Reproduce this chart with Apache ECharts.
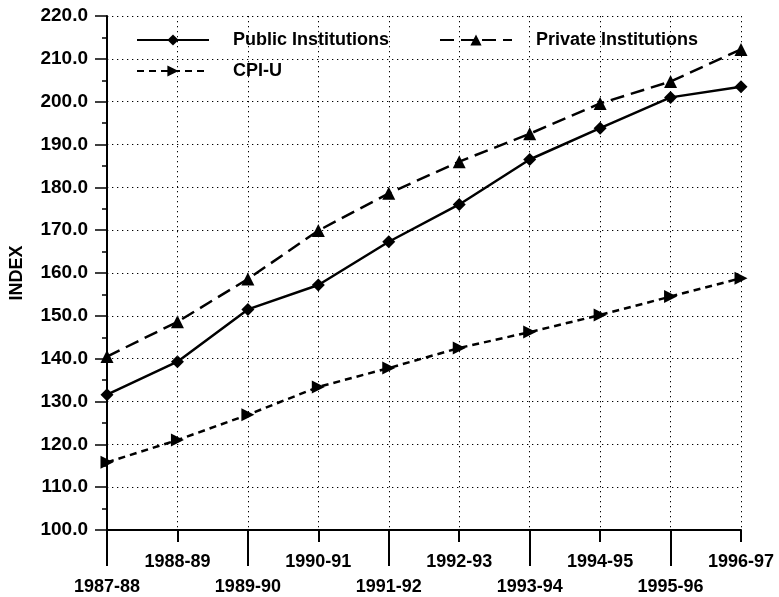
<!DOCTYPE html>
<html>
<head>
<meta charset="utf-8">
<style>
  html, body { margin: 0; padding: 0; background: #fff; }
  #chart { width: 779px; height: 597px; }
</style>
<script src="https://cdn.jsdelivr.net/npm/echarts@6/dist/echarts.min.js"></script>
</head>
<body>
<div id="chart"></div>
<script>
const categories = ['1987-88','1988-89','1989-90','1990-91','1991-92','1992-93','1993-94','1994-95','1995-96','1996-97'];
const publicInst = [131.6, 139.3, 151.5, 157.2, 167.3, 176.0, 186.5, 193.8, 201.0, 203.5];
const privateInst = [140.5, 148.6, 158.6, 169.9, 178.6, 186.0, 192.5, 199.6, 204.7, 212.2];
const cpiU = [115.8, 121.0, 126.9, 133.4, 137.8, 142.5, 146.2, 150.2, 154.5, 158.8];
const yTicks = { min: 100, max: 220, interval: 10 };

const FONT = '"Liberation Sans", Arial, Helvetica, sans-serif';
const chart = echarts.init(document.getElementById('chart'), null, { renderer: 'canvas' });

const dotted = { color: '#000', width: 1, type: [1.3, 3.7] };
const evenIdx = (i) => i % 2 === 0;
const oddIdx = (i) => i % 2 === 1;

const option = {
  backgroundColor: '#fff',
  animation: false,
  grid: { left: 103, right: 38, top: 16, bottom: 67, containLabel: false },
  legend: [
    {
      data: ['Public Institutions', 'Private Institutions'],
      left: 136, top: 31, padding: 0,
      itemWidth: 72, itemHeight: 14, itemGap: 50,
      textStyle: { fontFamily: FONT, fontWeight: 'bold', fontSize: 18, color: '#000', padding: [0, 0, 0, 19] }
    },
    {
      data: ['CPI-U'],
      left: 136, top: 62, padding: 0,
      itemWidth: 72, itemHeight: 14,
      textStyle: { fontFamily: FONT, fontWeight: 'bold', fontSize: 18, color: '#000', padding: [0, 0, 0, 19] }
    }
  ],
  xAxis: [
    {
      type: 'category', data: categories, boundaryGap: false, position: 'bottom',
      axisLine: { show: true, lineStyle: { color: '#000', width: 2 } },
      axisTick: { show: true, length: 36, interval: evenIdx, lineStyle: { color: '#000', width: 2 } },
      axisLabel: { interval: evenIdx, margin: 48, fontFamily: FONT, fontWeight: 'bold', fontSize: 18, color: '#000' },
      splitLine: { show: true, interval: 0, lineStyle: dotted }
    },
    {
      type: 'category', data: categories, boundaryGap: false, position: 'bottom',
      axisLine: { show: false },
      axisTick: { show: true, length: 12, interval: oddIdx, lineStyle: { color: '#000', width: 2 } },
      axisLabel: { interval: oddIdx, margin: 23, fontFamily: FONT, fontWeight: 'bold', fontSize: 18, color: '#000' },
      splitLine: { show: false }
    }
  ],
  yAxis: {
    type: 'value', min: yTicks.min, max: yTicks.max, interval: yTicks.interval,
    name: 'INDEX', nameLocation: 'middle', nameGap: 81,
    nameTextStyle: { fontFamily: FONT, fontWeight: 'bold', fontSize: 18, color: '#000' },
    axisLine: { show: true, lineStyle: { color: '#000', width: 2 } },
    axisTick: { show: true, length: 12, lineStyle: { color: '#000', width: 1.5 } },
    minorTick: { show: true, splitNumber: 2, length: 5, lineStyle: { color: '#000', width: 1.5 } },
    axisLabel: { margin: 19, fontFamily: FONT, fontWeight: 'bold', fontSize: 19, color: '#000',
      formatter: (v) => v.toFixed(1) },
    splitLine: { show: true, lineStyle: dotted }
  },
  series: [
    {
      name: 'Public Institutions', type: 'line', data: publicInst,
      symbol: 'diamond', symbolSize: 13,
      lineStyle: { color: '#000', width: 2.5, type: 'solid' },
      itemStyle: { color: '#000' }, z: 5
    },
    {
      name: 'Private Institutions', type: 'line', data: privateInst,
      symbol: 'triangle', symbolSize: 13,
      lineStyle: { color: '#000', width: 2.5, type: [14, 7] },
      itemStyle: { color: '#000' }, z: 5
    },
    {
      name: 'CPI-U', type: 'line', data: cpiU,
      symbol: 'triangle', symbolRotate: -90, symbolSize: 13,
      lineStyle: { color: '#000', width: 2.5, type: [7, 5] },
      itemStyle: { color: '#000' }, z: 5
    }
  ]
};
chart.setOption(option);
</script>
</body>
</html>
